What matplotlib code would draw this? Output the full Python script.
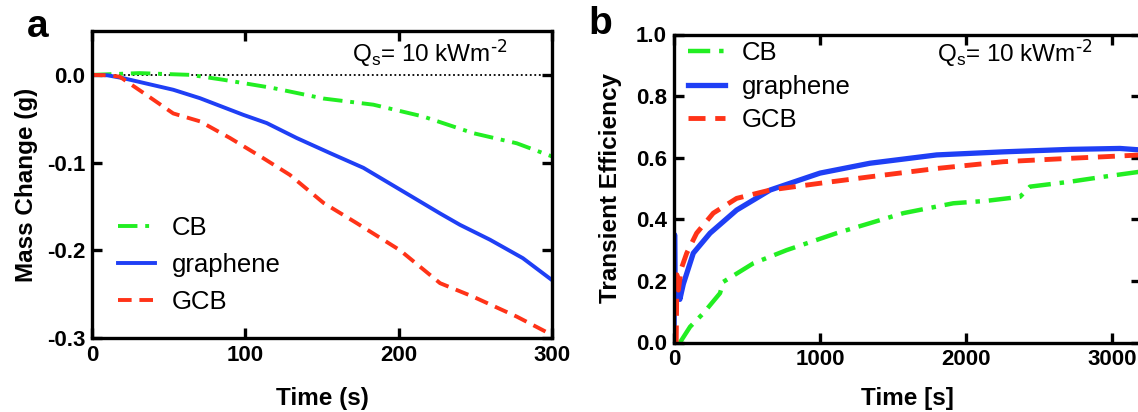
import matplotlib
matplotlib.use("Agg")
import matplotlib.pyplot as plt

plt.rcParams['font.family'] = ['Liberation Sans', 'DejaVu Sans']
plt.rcParams['mathtext.default'] = 'regular'

# ---------------- data: panel a (mass change) ----------------
t_a_graphene = [0, 10, 20.4, 53, 70.4, 98.7, 114, 133.5, 155, 177, 203, 227, 240, 259.6, 281, 300]
m_graphene = [0.0, -0.0005, -0.0038, -0.017, -0.0266, -0.0456, -0.055, -0.072, -0.089, -0.106,
              -0.133, -0.158, -0.171, -0.188, -0.209, -0.234]

t_a_gcb = [0, 10, 18, 35.6, 53, 70.4, 90, 111.7, 129, 151, 172.6, 200.9, 227, 248.7, 277, 300]
m_gcb = [0.0, -0.0005, -0.002, -0.023, -0.044, -0.053, -0.072, -0.095, -0.114, -0.146, -0.169,
         -0.2, -0.2375, -0.253, -0.2756, -0.2965]

t_a_cb = [0, 31, 64, 86, 118, 151, 183.5, 216, 248.7, 277, 300]
m_cb = [0.0, 0.002, 0.0, -0.0057, -0.015, -0.027, -0.034, -0.0475, -0.0665, -0.078, -0.093]

# ---------------- data: panel b (transient efficiency) ----------------
t_b_graphene = [0, 4, 10, 25, 40, 64, 132, 247, 429, 658, 1000, 1342, 1799, 2255, 2712, 3055, 3200]
eff_graphene = [0.0, 0.35, 0.10, 0.18, 0.14, 0.19, 0.29, 0.355, 0.43, 0.495, 0.55, 0.582, 0.609,
                0.619, 0.627, 0.63, 0.625]

t_b_gcb = [15, 20, 30, 50, 87, 155, 269, 429, 658, 1000, 1342, 1799, 2255, 2712, 2940, 3200]
eff_gcb = [0.0, 0.22, 0.17, 0.24, 0.29, 0.355, 0.42, 0.468, 0.495, 0.517, 0.538, 0.565, 0.587,
           0.598, 0.603, 0.609]

t_b_cb = [41, 110, 201, 315, 338, 543, 772, 1114, 1571, 1913, 2142, 2370, 2438, 2712, 2940, 3200]
eff_cb = [0.0, 0.051, 0.095, 0.16, 0.197, 0.257, 0.30, 0.355, 0.42, 0.452, 0.46, 0.473, 0.506,
          0.522, 0.538, 0.555]

labels = ['CB', 'graphene', 'GCB']
colors = ['#22ee22', '#1f3ff5', '#ff3318']

W, H = 1138, 412
fig = plt.figure(figsize=(W / 100, H / 100), dpi=100)


def px_axes(l, t, r, b):
    return fig.add_axes([l / W, 1 - b / H, (r - l) / W, (b - t) / H])


ls_cb = (0, (5, 2, 1, 2))
ls_gcb = (0, (3.5, 2))
lw = 2.8
qs_text = 'Q$_{s}$= 10 kWm$^{\\text{-2}}$'


def style(ax):
    for s in ax.spines.values():
        s.set_linewidth(2.4)
    ax.tick_params(direction='in', length=7, width=2.4, top=True, right=True,
                   labelsize=16, pad=5)
    for lab in ax.get_xticklabels() + ax.get_yticklabels():
        lab.set_fontweight('bold')


leg_kw = dict(loc='upper left', frameon=False, fontsize=18.5, handlelength=1.45,
              handletextpad=0.65, borderpad=0, borderaxespad=0)

# ---------------- panel a ----------------
ax1 = px_axes(92, 31, 552, 338)
ax1.axhline(0, color='black', lw=1.3, ls=(0, (1, 1.5)), zorder=1)
ax1.plot(t_a_cb, m_cb, color=colors[0], lw=lw, ls=ls_cb, label=labels[0])
ax1.plot(t_a_graphene, m_graphene, color=colors[1], lw=lw, label=labels[1])
ax1.plot(t_a_gcb, m_gcb, color=colors[2], lw=lw, ls=ls_gcb, label=labels[2])
ax1.set_xlim(0, 300)
ax1.set_ylim(-0.3, 0.05)
ax1.set_xticks([0, 100, 200, 300])
ax1.set_yticks([0.0, -0.1, -0.2, -0.3])
ax1.set_yticklabels(['0.0', '-0.1', '-0.2', '-0.3'])
style(ax1)
ax1.legend(bbox_to_anchor=((118 - 92) / 460, 1 - (216 - 31) / 307), labelspacing=0.5, **leg_kw)
ax1.text((352 - 92) / 460, 1 - (62 - 31) / 307, qs_text,
         transform=ax1.transAxes, fontsize=17.5, va='baseline', ha='left')

# ---------------- panel b ----------------
ax2 = px_axes(674, 34.5, 674 + 3200 * 0.146, 342.5)
ax2.plot(t_b_cb, eff_cb, color=colors[0], lw=lw + 0.4, ls=ls_cb, label=labels[0])
ax2.plot(t_b_graphene, eff_graphene, color=colors[1], lw=lw + 1.0, label=labels[1])
ax2.plot(t_b_gcb, eff_gcb, color=colors[2], lw=lw + 0.7, ls=ls_gcb, label=labels[2])
ax2.set_xlim(0, 3200)
ax2.set_ylim(0, 1.0)
ax2.set_xticks([0, 1000, 2000, 3000])
ax2.set_yticks([0.0, 0.2, 0.4, 0.6, 0.8, 1.0])
ax2.set_yticklabels(['0.0', '0.2', '0.4', '0.6', '0.8', '1.0'])
style(ax2)
ax2.legend(bbox_to_anchor=((688 - 674) / 467.2, 1 - (41 - 34.5) / 308), labelspacing=0.37, **leg_kw)
ax2.text((937 - 674) / 467.2, 1 - (62 - 34.5) / 308, qs_text,
         transform=ax2.transAxes, fontsize=17.5, va='baseline', ha='left')

# axis labels and panel letters
fig.text(322 / W, 1 - 399 / H, 'Time (s)', fontsize=17.5, fontweight='bold', ha='center', va='center')
fig.text(907 / W, 1 - 399 / H, 'Time [s]', fontsize=17.5, fontweight='bold', ha='center', va='center')
fig.text(26 / W, 1 - 185 / H, 'Mass Change (g)', fontsize=17.5, fontweight='bold', rotation=90,
         ha='center', va='center')
fig.text(611 / W, 1 - 188 / H, 'Transient Efficiency', fontsize=17.5, fontweight='bold',
         rotation=90, ha='center', va='center')
fig.text(38 / W, 1 - 27 / H, 'a', fontsize=28, fontweight='bold', ha='center', va='center')
fig.text(600 / W, 1 - 24 / H, 'b', fontsize=28, fontweight='bold', ha='center', va='center')

fig.savefig('out.png', dpi=100)
